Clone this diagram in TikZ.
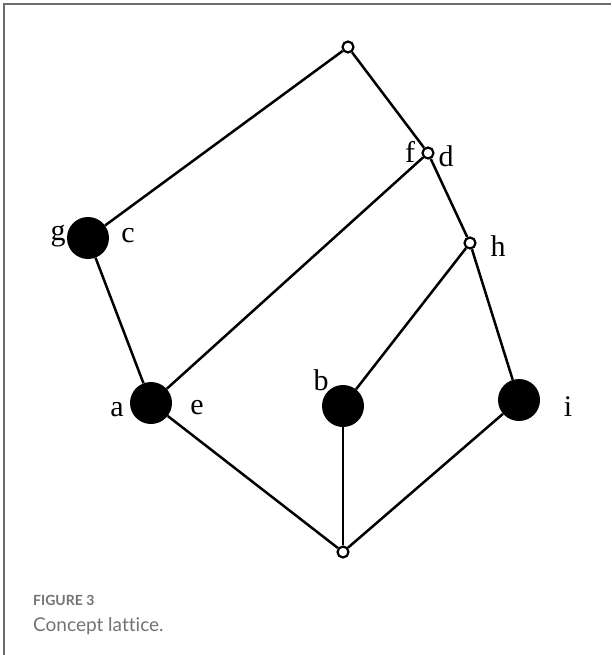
\documentclass[tikz,border=0pt]{standalone}
\usepackage{fontspec}
\setmainfont{Liberation Serif}
\newfontfamily\capfont[Ligatures={NoCommon}]{Lato}
\begin{document}
\begin{tikzpicture}[x=1pt,y=-1pt,
  edge/.style={line width=2.5pt},
  small/.style={circle,draw,fill=white,line width=2.2pt,minimum size=11pt,inner sep=0pt},
  big/.style={circle,fill=black,minimum size=42pt,inner sep=0pt},
  lab/.style={font=\fontsize{30}{30}\selectfont,inner sep=0pt}]
\useasboundingbox (0,0) rectangle (611,655);
\draw[line width=1.8pt,gray!85!black] (4,655) -- (4,4) -- (611,4);
% nodes
\node[small] (top) at (348,47) {};
\node[small] (fd) at (428,153) {};
\node[small] (h) at (470,243) {};
\node[big] (gc) at (88,238) {};
\node[big] (ae) at (151,403) {};
\node[big] (b) at (343,406) {};
\node[big] (i) at (519,400) {};
\node[small] (bot) at (343,552) {};
% edges
\draw[edge] (top) -- (gc);
\draw[edge] (top) -- (fd);
\draw[edge] (fd) -- (ae);
\draw[edge] (fd) -- (h);
\draw[edge] (h) -- (b);
\draw[edge] (h) -- (i);
\draw[edge] (gc) -- (ae);
\draw[edge] (ae) -- (bot);
\draw[edge] (b) -- (bot);
\draw[edge] (i) -- (bot);
% labels
\node[lab] (lg) at (58,236) {g};
\node[lab] (lc) at (128,236) {c};
\node[lab] (lf) at (410,152) {f};
\node[lab] (ld) at (446,156) {d};
\node[lab] (lh) at (498,246) {h};
\node[lab] (la) at (117,410) {a};
\node[lab] (le) at (197,408) {e};
\node[lab] (lb) at (321,380) {b};
\node[lab] (li) at (568,407) {i};
% caption
\node[anchor=west,inner sep=0pt,text=gray!90!black,font=\capfont\bfseries\fontsize{14}{14}\selectfont] (fig) at (33,600) {FIGURE 3};
\node[anchor=west,inner sep=0pt,text=gray!90!black,font=\capfont\fontsize{19}{19}\selectfont] (cap) at (33,626) {Concept lattice.};
\end{tikzpicture}
\end{document}
